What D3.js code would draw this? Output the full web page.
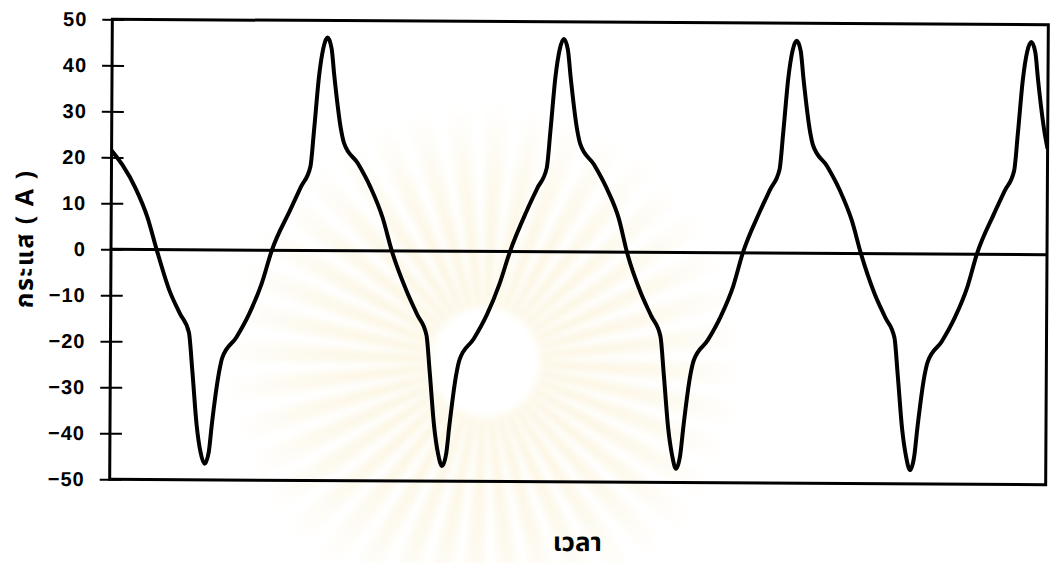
<!DOCTYPE html>
<html>
<head>
<meta charset="utf-8">
<script src="https://cdn.jsdelivr.net/npm/d3@7"></script>
<style>
  html, body { margin: 0; padding: 0; background: #fff; }
  svg { display: block; }
</style>
</head>
<body>
<svg id="chart" width="1050" height="563"></svg>
<script>
// Sampled current waveform: time (ms) and current (A)
const timeMs = [
  0, 0.95, 2.05, 3.1, 3.9,
  5.0, 5.9, 6.7, 7.0, 7.4, 7.75, 8.1, 8.45, 8.7, 9.3, 9.55, 10.75, 11.85, 12.9, 13.75,
  15.3, 16.2, 17.0, 17.3, 17.7, 18.05, 18.4, 18.75, 19.0, 19.6, 19.85, 21.05, 22.15, 23.2, 24.0,
  25.3, 26.2, 27.0, 27.3, 27.7, 28.05, 28.4, 28.75, 29.0, 29.6, 29.85, 31.05, 32.15, 33.2, 34.1,
  35.5, 36.4, 37.2, 37.5, 37.9, 38.25, 38.6, 38.95, 39.2, 39.8, 40.05, 41.25, 42.35, 43.4, 44.1,
  45.3, 46.2, 47.0, 47.3, 47.7, 48.05, 48.4, 48.75, 49.0, 49.6, 49.85, 51.05, 52.15, 53.2, 54.0,
  55.4, 56.3, 57.1, 57.4, 57.8, 58.15, 58.5, 58.85, 59.1, 59.7, 59.95, 61.15, 62.25, 63.3, 64.1,
  65.3, 66.2, 67.0, 67.3, 67.7, 68.05, 68.4, 68.75, 69.0, 69.6, 69.85, 71.05, 72.15, 73.2, 74.0,
  75.45, 76.35, 77.15, 77.45, 77.85, 78.2, 78.55, 78.9, 79.15, 79.75, 80.0
];
const currentA = [
  21.5, 18.3, 13.4, 7.0, 0,
  -8.8, -13.8, -18.0, -26.0, -38.0, -44.0, -46.5, -44.0, -38.0, -26.5, -23.5, -19.0, -13.8, -7.2, 0,
  8.8, 13.8, 18.2, 26.3, 38.0, 44.0, 46.3, 44.0, 38.0, 26.3, 23.5, 19.0, 13.8, 7.2, 0,
  -8.8, -13.8, -18.2, -26.3, -38.0, -44.0, -46.7, -44.0, -38.0, -26.3, -23.5, -19.0, -13.8, -7.2, 0,
  8.8, 13.8, 18.2, 26.3, 38.0, 44.0, 46.3, 44.0, 38.0, 26.3, 23.5, 19.0, 13.8, 7.2, 0,
  -8.8, -13.8, -18.2, -26.3, -38.0, -44.0, -47.0, -44.0, -38.0, -26.3, -23.5, -19.0, -13.8, -7.2, 0,
  8.8, 13.8, 18.2, 26.3, 38.0, 44.0, 46.2, 44.0, 38.0, 26.3, 23.5, 19.0, 13.8, 7.2, 0,
  -8.8, -13.8, -18.2, -26.3, -38.0, -44.0, -47.0, -44.0, -38.0, -26.3, -23.5, -19.0, -13.8, -7.2, 0,
  8.8, 13.8, 18.2, 26.3, 38.0, 44.0, 46.2, 44.0, 38.0, 26.3, 23.0
];
const yTickValues = [-50, -40, -30, -20, -10, 0, 10, 20, 30, 40, 50];
const timeDomain = [0, 80];
const currentDomain = [-50, 50];
const yTitle = "กระแส ( A )";
const xTitle = "เวลา";

const svg = d3.select("#chart");
const plot = { left: 111, right: 1047, top: 22, bottom: 482 };
const defs = svg.append("defs");

// faint sunburst emblem behind the chart
const emblemCenter = [485, 362];
const rayGrad = defs.append("radialGradient").attr("id", "rayFill")
  .attr("gradientUnits", "userSpaceOnUse")
  .attr("cx", 0).attr("cy", 0).attr("r", 260);
rayGrad.append("stop").attr("offset", "0.25").attr("stop-color", "#f7e7b6");
rayGrad.append("stop").attr("offset", "0.7").attr("stop-color", "#fbf3da");
rayGrad.append("stop").attr("offset", "1").attr("stop-color", "#ffffff");
defs.append("filter").attr("id", "soft")
  .append("feGaussianBlur").attr("stdDeviation", 3);

const emblem = svg.append("g")
  .attr("transform", `translate(${emblemCenter[0]},${emblemCenter[1]})`)
  .attr("opacity", 0.45)
  .attr("filter", "url(#soft)");
const rayCount = 40;
emblem.selectAll("path.ray")
  .data(d3.range(rayCount))
  .join("path")
  .attr("class", "ray")
  .attr("d", i => {
    const a0 = i * 2 * Math.PI / rayCount;
    return d3.arc().innerRadius(55).outerRadius(260)
      .startAngle(a0).endAngle(a0 + 2 * Math.PI / rayCount * 0.6)();
  })
  .attr("fill", "url(#rayFill)");

const x = d3.scaleLinear().domain(timeDomain).range([plot.left, plot.right]);
const y = d3.scaleLinear().domain(currentDomain).range([plot.bottom, plot.top]);

// whole page is printed with a very slight clockwise tilt
const cx = (plot.left + plot.right) / 2, cy = y(0);
const g = svg.append("g").attr("transform", `rotate(0.33, ${cx}, ${cy})`);

// y axis with ticks crossing the axis line
const yAxis = d3.axisLeft(y).tickValues(yTickValues).tickSizeInner(10).tickSizeOuter(0).tickPadding(15)
  .tickFormat(d3.format("d"));
const ya = g.append("g").attr("transform", `translate(${plot.left},0)`).call(yAxis);
ya.select(".domain").remove();
ya.selectAll(".tick line").attr("stroke", "#000").attr("stroke-width", 2).attr("x1", 12).attr("x2", -10);
ya.selectAll(".tick text")
  .attr("fill", "#000")
  .style("font-family", "'Liberation Sans', Arial, sans-serif")
  .style("font-weight", "bold")
  .style("font-size", "20px")
  .style("letter-spacing", "1px");

// zero reference line
g.append("line")
  .attr("x1", plot.left).attr("x2", plot.right)
  .attr("y1", y(0)).attr("y2", y(0))
  .attr("stroke", "#000").attr("stroke-width", 3);

// plot frame
g.append("rect")
  .attr("x", plot.left).attr("y", plot.top)
  .attr("width", plot.right - plot.left).attr("height", plot.bottom - plot.top)
  .attr("fill", "none").attr("stroke", "#000").attr("stroke-width", 3);

// current waveform
defs.append("clipPath").attr("id", "plotClip").append("rect")
  .attr("x", plot.left).attr("y", plot.top - 5)
  .attr("width", plot.right - plot.left).attr("height", plot.bottom - plot.top + 10);
const line = d3.line()
  .x((d, i) => x(timeMs[i]))
  .y((d, i) => y(currentA[i]))
  .curve(d3.curveMonotoneX);
g.append("path")
  .datum(currentA)
  .attr("clip-path", "url(#plotClip)")
  .attr("d", line)
  .attr("fill", "none")
  .attr("stroke", "#000")
  .attr("stroke-width", 4)
  .attr("stroke-linejoin", "round");

const thaiFont = "'Noto Sans Thai', 'Noto Sans', Loma, Garuda, 'Tlwg Typo', Norasi, 'Liberation Sans', sans-serif";

// axis titles
g.append("text")
  .attr("transform", "translate(33,242) rotate(-90)")
  .attr("text-anchor", "middle")
  .style("font-family", thaiFont)
  .style("font-weight", "bold")
  .style("font-size", "25px")
  .style("letter-spacing", "1.5px")
  .attr("fill", "#000")
  .text(yTitle);

g.append("text")
  .attr("x", 579).attr("y", 551)
  .attr("text-anchor", "middle")
  .style("font-family", thaiFont)
  .style("font-weight", "bold")
  .style("font-size", "26px")
  .attr("fill", "#000")
  .text(xTitle);
</script>
</body>
</html>
